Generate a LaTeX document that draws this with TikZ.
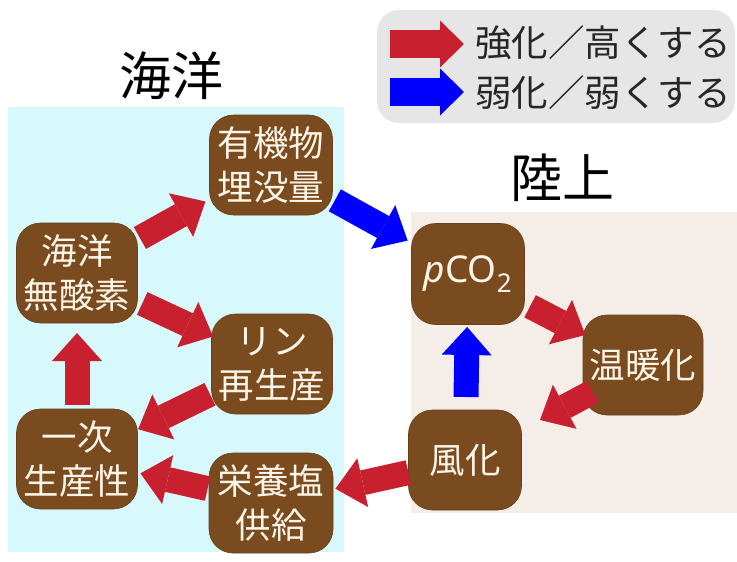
\documentclass[tikz,border=0pt]{standalone}
\usepackage{fontspec}
\setmainfont{Noto Sans CJK JP}
\newfontfamily\latf{Noto Sans}
\usetikzlibrary{arrows.meta}
\definecolor{oceanbg}{HTML}{D7F9FB}
\definecolor{landbg}{HTML}{F5EEE8}
\definecolor{legbg}{HTML}{E6E6E6}
\definecolor{nodebrown}{HTML}{7A4B1F}
\definecolor{nodetext}{HTML}{FFF5E8}
\definecolor{arrred}{HTML}{C8202F}
\definecolor{arrblue}{HTML}{0000FF}
\begin{document}
\begin{tikzpicture}[x=1pt,y=-1pt,
  box/.style={draw=nodebrown!85!black, line width=0.6pt, fill=nodebrown,
    rounded corners=24pt, text=nodetext, align=center,
    font=\fontsize{35.5}{44}\selectfont, inner sep=0pt,
    minimum width=121pt, minimum height=100pt},
  fat/.style={line width=25pt, -{Triangle[length=28pt,width=50pt,line width=0pt]}},
  legarrow/.style={line width=28pt, -{Triangle[length=24pt,width=47pt,line width=0pt]}},
  title/.style={font=\fontsize{52}{52}\selectfont, text=black, inner sep=0pt},
  legtext/.style={font=\fontsize{36.5}{36.5}\selectfont, text=black!85, anchor=west, inner sep=0pt}
]
\useasboundingbox (0,0) rectangle (737,562);
\fill[white] (0,0) rectangle (737,562);
% backgrounds
\fill[oceanbg] (8,107) rectangle (344,552);
\fill[landbg] (411,212) rectangle (737,513);
\fill[legbg, rounded corners=22pt] (377,10) rectangle (735,123);

% titles
\node[title] (tocean) at (171,76) {海洋};
\node[title] (tland) at (562,178) {陸上};

% legend
\coordinate (lr1) at (390,44);
\coordinate (lr2) at (464,44);
\coordinate (lb1) at (390,92);
\coordinate (lb2) at (464,92);
\draw[legarrow, arrred] (lr1) -- (lr2);
\draw[legarrow, arrblue] (lb1) -- (lb2);
\node[legtext] (lt1) at (475,43) {強化／高くする};
\node[legtext] (lt2) at (475,93) {弱化／弱くする};

% nodes
\node[box, minimum width=123pt] (org) at (271,165) {有機物\\埋没量};
\node[box] (anox) at (77,273) {海洋\\無酸素};
\node[box] (phos) at (272,364) {リン\\再生産};
\node[box] (prim) at (77,459) {一次\\生産性};
\node[box, minimum width=124pt] (nutr) at (271,503) {栄養塩\\供給};
\node[box, minimum width=113pt, minimum height=101pt, font=\fontsize{37}{37}\latf] (pco) at (468,274) {\textit{p}CO\textsubscript{2}};
\node[box, minimum width=120pt] (warm) at (643,365) {温暖化};
\node[box, minimum width=113pt] (weath) at (465,460) {風化};

% connectors
\draw[fat, arrred, shorten <=72pt, shorten >=75pt] (anox.center) -- (org.center);
\draw[fat, arrred, shorten <=72pt, shorten >=65pt] (anox.center) -- (phos.center);
\draw[fat, arrred, shorten <=54pt, shorten >=60pt] (prim.center) -- (anox.center);
\draw[fat, arrred, shorten <=69pt, shorten >=68pt] (phos.center) -- (prim.center);
\draw[fat, arrred, shorten <=65pt, shorten >=65pt] (nutr.center) -- (prim.center);
\draw[fat, arrred, shorten <=58pt, shorten >=66pt] (weath.center) -- (nutr.center);
\draw[fat, arrblue, shorten <=73pt, shorten >=69pt] (org.center) -- (pco.center);
\draw[fat, arrred, shorten <=70pt, shorten >=65pt] (pco.center) -- (warm.center);
\draw[fat, arrred, shorten <=57pt, shorten >=85pt] (warm.center) -- (weath.center);
\draw[fat, arrblue, shorten <=63pt, shorten >=53pt] (weath.center) -- (pco.center);
\end{tikzpicture}
\end{document}
